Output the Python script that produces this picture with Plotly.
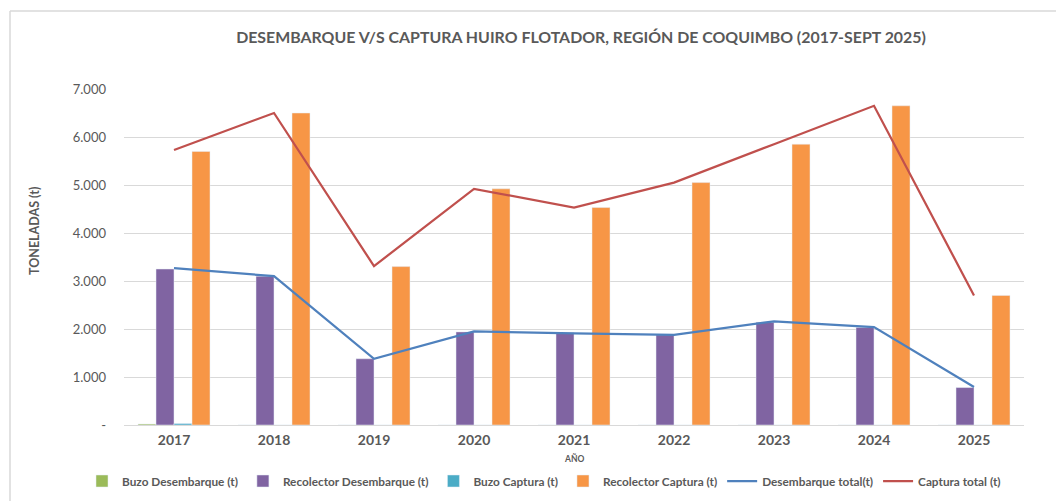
import plotly.graph_objects as go

years = ["2017", "2018", "2019", "2020", "2021", "2022", "2023", "2024", "2025"]
buzo_desembarque = [20, 0, 0, 0, 0, 0, 0, 0, 0]
recolector_desembarque = [3250, 3100, 1380, 1940, 1920, 1880, 2140, 2030, 780]
buzo_captura = [30, 0, 0, 0, 0, 0, 0, 0, 0]
recolector_captura = [5700, 6500, 3300, 4920, 4530, 5050, 5850, 6650, 2700]
desembarque_total = [3270, 3100, 1380, 1950, 1910, 1880, 2160, 2040, 790]
captura_total = [5730, 6500, 3310, 4920, 4530, 5050, 5850, 6650, 2700]
y_tickvals = [0, 1000, 2000, 3000, 4000, 5000, 6000, 7000]
y_ticktext = ["-", "1.000", "2.000", "3.000", "4.000", "5.000", "6.000", "7.000"]

FONT = "Lato"
GREY = "#595959"
W, H = 1056, 493
PL, PT, PW, PH = 116, 81, 900, 336  # plot area in figure pixels


def px_x(x):
    return (x - PL) / PW


def px_y(y):
    return (PT + PH - y) / PH


fig = go.Figure()
fig.add_trace(go.Bar(x=years, y=buzo_desembarque, name="Buzo Desembarque (t)", marker_color="#9BBB59"))
fig.add_trace(go.Bar(x=years, y=recolector_desembarque, name="Recolector Desembarque (t)", marker_color="#8064A2"))
fig.add_trace(go.Bar(x=years, y=buzo_captura, name="Buzo Captura (t)", marker_color="#4BACC6"))
fig.add_trace(go.Bar(x=years, y=recolector_captura, name="Recolector Captura (t)", marker_color="#F79646"))
fig.add_trace(go.Scatter(x=years, y=desembarque_total, name="Desembarque total(t)", mode="lines",
                         line=dict(color="#4F81BD", width=2.25)))
fig.add_trace(go.Scatter(x=years, y=captura_total, name="Captura total (t)", mode="lines",
                         line=dict(color="#C0504D", width=2.25)))

fig.update_layout(
    width=W, height=H,
    margin=dict(l=PL, r=W - PL - PW, t=PT, b=H - PT - PH, autoexpand=False),
    paper_bgcolor="white", plot_bgcolor="white",
    barmode="group", bargap=0.28, bargroupgap=0,
    font=dict(family=FONT, color=GREY, size=12),
    title=dict(text="<b>DESEMBARQUE V/S CAPTURA HUIRO FLOTADOR, REGIÓN DE COQUIMBO (2017-SEPT 2025)</b>",
               x=573/W, xanchor="center", y=1-29/H, yanchor="middle",
               font=dict(family=FONT, size=15.9, color=GREY)),
    xaxis=dict(type="category", showgrid=False, showline=False, ticks="", ticklabelstandoff=5,
               tickfont=dict(family=FONT, size=14, color=GREY, weight="bold")),
    yaxis=dict(range=[0, 7000], tickvals=y_tickvals, ticktext=y_ticktext,
               showgrid=True, gridcolor="#D9D9D9", gridwidth=1,
               zeroline=True, zerolinecolor="#D9D9D9", zerolinewidth=1,
               showline=False, ticks="", ticklabelstandoff=17,
               tickfont=dict(family=FONT, size=13, color=GREY)),
    legend=dict(orientation="h", x=px_x(74), xanchor="left", xref="paper",
                y=px_y(473), yanchor="middle", yref="paper",
                font=dict(family=FONT, size=11.8, color=GREY, weight="bold"),
                itemwidth=30, tracegroupgap=0, traceorder="normal"),
    annotations=[
        dict(text="<b>AÑO</b>", x=px_x(566), xref="paper", y=px_y(450), yref="paper",
             yanchor="middle", xanchor="center", showarrow=False,
             font=dict(family=FONT, size=8.5, color=GREY)),
        dict(text="<b>TONELADAS (t)</b>", x=px_x(26), xref="paper", y=px_y(223), yref="paper",
             yanchor="middle", xanchor="center", showarrow=False, textangle=-90,
             font=dict(family=FONT, size=12.5, color=GREY)),
    ],
    shapes=[
        dict(type="line", xref="paper", yref="paper", x0=px_x(2), x1=1.05, y0=px_y(3), y1=px_y(3),
             line=dict(color="#D9D9D9", width=1.5)),
        dict(type="line", xref="paper", yref="paper", x0=px_x(2), x1=px_x(2), y0=px_y(3), y1=-0.3,
             line=dict(color="#D9D9D9", width=1.5)),
    ],
)

fig.write_html("out.html")
